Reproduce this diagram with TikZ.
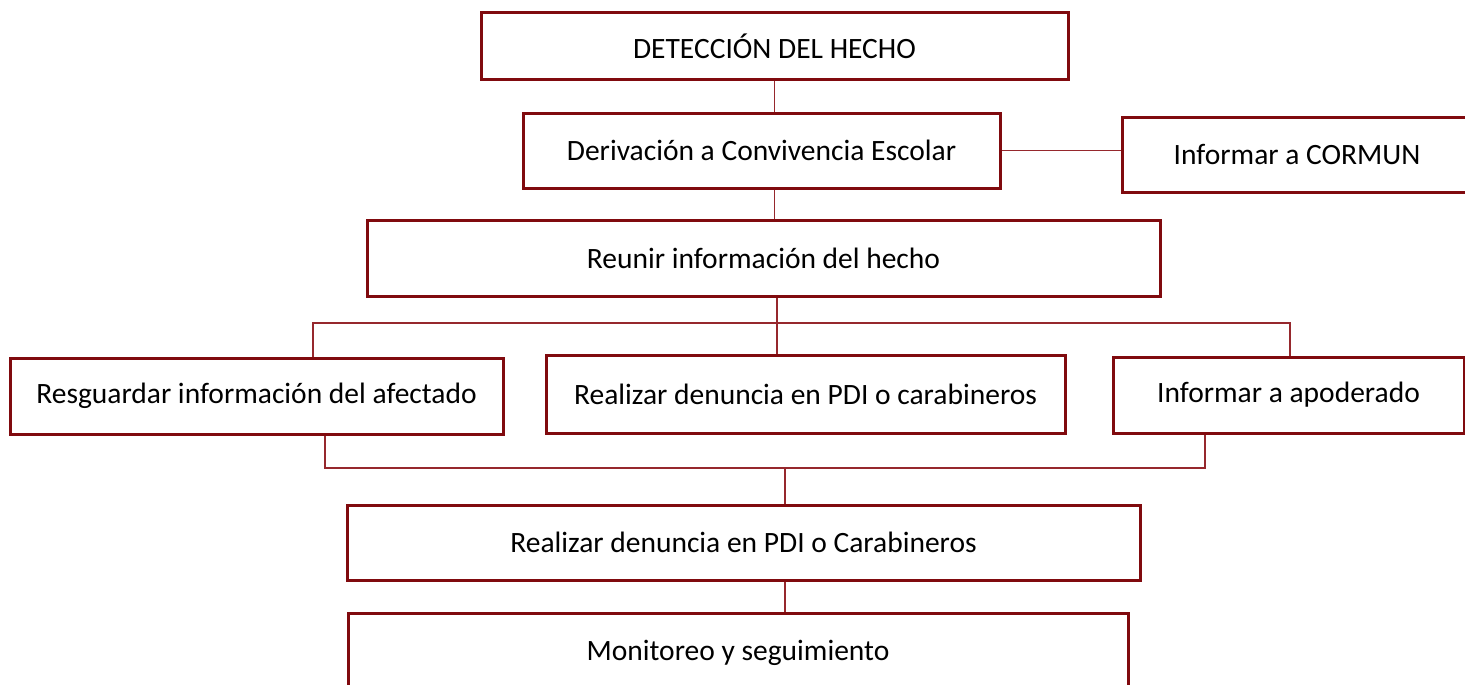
\documentclass[tikz,border=0pt]{standalone}
\usepackage{fontspec}
\setmainfont{Carlito}
\usetikzlibrary{positioning}
\definecolor{boxred}{RGB}{128,10,14}
\definecolor{linered}{RGB}{150,40,45}
\tikzset{
x=1pt, y=-1pt, % units follow the page pixels, y runs downwards
paso/.style={draw=boxred, line width=3pt, fill=white, inner sep=0pt,
  font=\fontsize{29.5}{34}\selectfont}, % every box of the chart
enlace/.style={draw=linered, line width=1.5pt}, % the thin connectors
}
\begin{document}
\begin{tikzpicture}
                \clip (0,0) rectangle (1465,685);
                \fill[white] (0,0) rectangle (1465,685);
                \node[paso, minimum width=587pt, minimum height=67pt] (det) at (774.5,46.5) {DETECCIÓN DEL HECHO};
                \node[paso, minimum width=477pt, minimum height=75pt] (der) at (761.5,150.5) {Derivación a Convivencia Escolar};
                \node[paso, minimum width=350pt, minimum height=75pt] (cormun) at (1297,154.5) {Informar a CORMUN};
                \node[paso, minimum width=793pt, minimum height=76pt] (reunir) at (763.5,258) {Reunir información del hecho};
                \node[paso, minimum width=493pt, minimum height=76pt] (resg) at (256.5,396) {Resguardar información del afectado};
                \node[paso, minimum width=519pt, minimum height=78pt] (pdi) at (805.5,394) {Realizar denuncia en PDI o carabineros};
                \node[paso, minimum width=351pt, minimum height=76pt] (apod) at (1288.5,395) {Informar a apoderado};
                \node[paso, minimum width=793pt, minimum height=75pt] (carab) at (743.5,542.5) {Realizar denuncia en PDI o Carabineros};
                \node[paso, minimum width=780pt, minimum height=80pt] (moni) at (738,653) {Monitoreo y seguimiento};
                % points where the branches split and join
                \coordinate (bl) at (313,323);
                \coordinate (bc) at (777,323);
                \coordinate (br) at (1290,323);
                \coordinate (ml) at (325,468);
                \coordinate (mc) at (785,468);
                \coordinate (mr) at (1205,468);
                \draw[enlace]
                    (det.south) -- (det.south |- der.north)
                    (det.south |- der.south) -- (det.south |- reunir.north)
                    (der.east) -- (der.east -| cormun.west)
                    (reunir.south -| bc) -- (pdi.north -| bc)
                    (resg.north -| bl) |- (br) -- (apod.north -| br)
                    (resg.south -| ml) |- (mr) -- (apod.south -| mr)
                    (mc) -- (carab.north -| mc)
                    (carab.south -| mc) -- (moni.north -| mc)
                    ;
                \end{tikzpicture}
\end{document}
